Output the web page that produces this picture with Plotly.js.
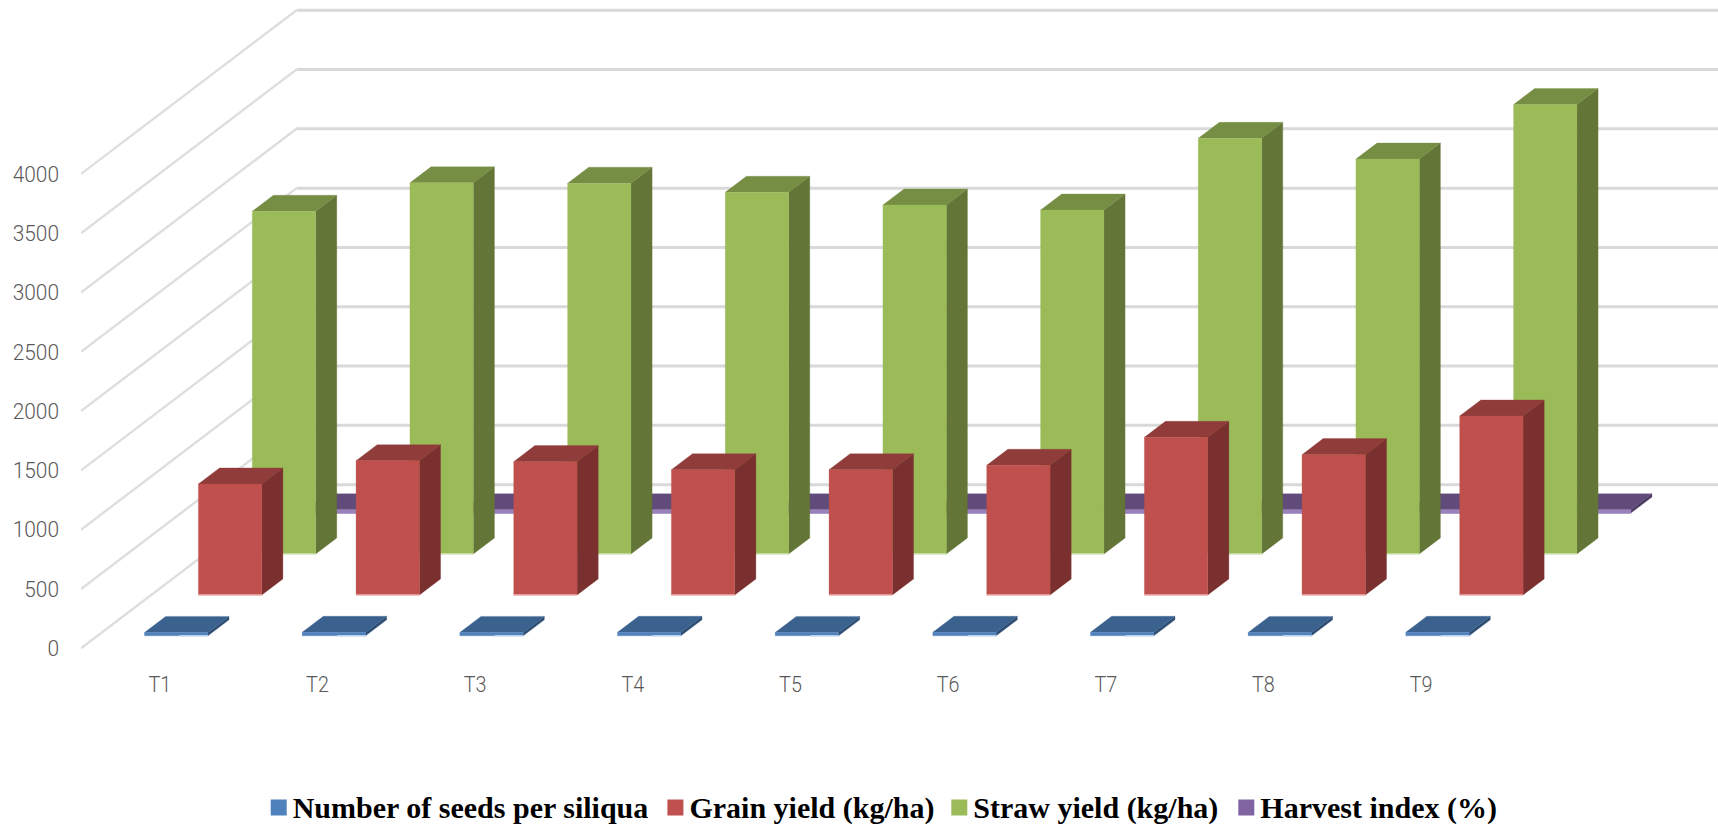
<!DOCTYPE html>
<html><head><meta charset="utf-8">
<script src="https://cdn.plot.ly/plotly-3.0.1.min.js"></script>
<style>html,body{margin:0;padding:0;background:#fff}#c{width:1718px;height:829px}</style>
</head><body><div id="c"></div>
<script>
const categories = ["T1","T2","T3","T4","T5","T6","T7","T8","T9"];
const seedsPerSiliqua = [29,30,29,30,29,30,30,29,30];
const grainYield = [936,1132,1124,1056,1056,1093,1329,1183,1509];
const strawYield = [2890,3130,3126,3050,2943,2900,3505,3330,3790];
const harvestIndex = [28,28,28,28,28,28,28,28,28];
const yTicks = [0,500,1000,1500,2000,2500,3000,3500,4000];

// Oblique projection expressed in axis units: one depth unit (whole floor depth)
// shifts a point by depthX categories and depthY value units.
const depthX = 1.367, depthY = 1380;
const barWidth = 0.402, slot = 0.25, barDepth = 0.098, depthGap = 0.076;
const px = (c, v, d) => c + d * depthX;
const py = (c, v, d) => v + d * depthY;

function poly(points){
  return {x: points.map(p => px(...p)), y: points.map(p => py(...p))};
}
function collect(values, slotIndex, face, edgeFrom){
  const xs = [], ys = [];
  values.forEach((v, i) => {
    const l = i + (1 - barWidth) / 2, r = l + barWidth;
    const d0 = slotIndex * slot + depthGap, d1 = d0 + barDepth;
    const faces = {
      front: [[l,0,d0],[r,0,d0],[r,v,d0],[l,v,d0],[l,0,d0]],
      top:   [[l,v,d0],[r,v,d0],[r,v,d1],[l,v,d1],[l,v,d0]],
      side:  [[r,0,d0],[r,0,d1],[r,v,d1],[r,v,d0],[r,0,d0]],
      edge:  [[l + barWidth * (edgeFrom || 0),0,d0],[r,0,d0]]
    };
    const p = poly(faces[face]);
    xs.push(...p.x, null); ys.push(...p.y, null);
  });
  return {x: xs, y: ys};
}
const series = [
  {name:"Number of seeds per siliqua", values:seedsPerSiliqua, slot:0, front:"#4F81BD", top:"#3B618E", side:"#2F4E73", edge:"#C6D9F1", edgeFrom:0.55, legendW:351.7},
  {name:"Grain yield (kg/ha)", values:grainYield, slot:1, front:"#C0504D", top:"#903C3A", side:"#7A302E", edge:"#EFB4B2", edgeFrom:0, legendW:238.9},
  {name:"Straw yield (kg/ha)", values:strawYield, slot:2, front:"#9BBB59", top:"#768D44", side:"#637537", edge:"#D7E4BD", edgeFrom:0, legendW:242},
  {name:"Harvest index (%)", values:harvestIndex, slot:3, front:"#9A82BC", top:"#604B7A", side:"#4D3C62", edge:"#9A82BC", edgeFrom:0, legendW:240}
];
const legendColors = ["#4F81BD","#C0504D","#9BBB59","#8064A2"];
const traces = [];
// legend entries
series.forEach((s,i) => traces.push({x:[null], y:[null], type:"scatter", mode:"markers", name:s.name, legendwidth:s.legendW,
  marker:{symbol:"square", size:18, color:legendColors[i]}, hoverinfo:"skip"}));
// walls
const wallX = [], wallY = [], backX = [], backY = [];
yTicks.forEach(t => {
  const a = poly([[0,t,0],[0,t,1]]);
  wallX.push(...a.x, null); wallY.push(...a.y, null);
  const b = poly([[0,t,1],[9,t,1]]);
  backX.push(...b.x, 11, null); backY.push(...b.y, b.y[1], null);
});
traces.push({x:wallX, y:wallY, type:"scatter", mode:"lines", line:{color:"#DEDEDE", width:2.4}, showlegend:false, hoverinfo:"skip"});
traces.push({x:backX, y:backY, type:"scatter", mode:"lines", line:{color:"#D9D9D9", width:3}, showlegend:false, hoverinfo:"skip"});
// bars back to front
series.slice().reverse().forEach(s => {
  ["side","top","front"].forEach(f => {
    const g = collect(s.values, s.slot, f);
    traces.push({x:g.x, y:g.y, type:"scatter", mode:"lines", fill:"toself", fillcolor:s[f],
      line:{width:0.3, color:s[f]}, showlegend:false, hoverinfo:"skip"});
  });
  const e = collect(s.values, s.slot, "edge", s.edgeFrom);
  traces.push({x:e.x, y:e.y, type:"scatter", mode:"lines", line:{width:1.5, color:s.edge}, showlegend:false, hoverinfo:"skip"});
});

const pxPerCat = 157.7, pxPerVal = 0.1186, left = 80.6, zeroY = 648.3, plotBottom = 665;
const tickFamily = "Roboto,'Liberation Sans',sans-serif";
const layout = {
  width:1718, height:829, paper_bgcolor:"#fff", plot_bgcolor:"#fff",
  margin:{l:left, r:0, t:0, b:829-plotBottom, pad:0, autoexpand:false},
  showlegend:true,
  legend:{orientation:"h", x:0.4876, xref:"paper", xanchor:"center", y:-0.212, yanchor:"middle",
    font:{family:"'Liberation Serif', 'Times New Roman', serif", size:30, color:"#000", weight:700}, itemclick:false, itemdoubleclick:false},
  xaxis:{range:[0,(1718-left)/pxPerCat], showgrid:false, zeroline:false, showline:false, ticks:"",
    tickmode:"array", tickvals:categories.map((c,i)=>i+0.5), ticktext:categories, ticklabelstandoff:4,
    tickfont:{family:tickFamily, size:22, color:"#595959", weight:300}, fixedrange:true},
  yaxis:{range:[-(plotBottom-zeroY)/pxPerVal, zeroY/pxPerVal], showgrid:false, zeroline:false, showline:false, ticks:"",
    tickmode:"array", tickvals:yTicks, ticktext:yTicks.map(String), ticklabelstandoff:21,
    tickfont:{family:tickFamily, size:22, color:"#595959", weight:300}, fixedrange:true}
};
Plotly.newPlot("c", traces, layout, {displayModeBar:false, staticPlot:true}).then(gd => {
  // the reference tick font is condensed: narrow the tick labels around their anchor
  const narrow = (sel, k) => gd.querySelectorAll(sel).forEach(t => {
    const x = t.getAttribute("x"), y = t.getAttribute("y"), o = t.getAttribute("transform") || "";
    t.setAttribute("transform", `${o} translate(${x},${y}) scale(${k},1) translate(${-x},${-y})`);
  });
  narrow(".xtick text", 0.9);
  narrow(".ytick text", 0.95);
  // the reference legend swatches sit close to their text
  gd.querySelectorAll(".legendpoints").forEach(g => {
    g.setAttribute("transform", "translate(6,1.5)");
  });
});
</script></body></html>
